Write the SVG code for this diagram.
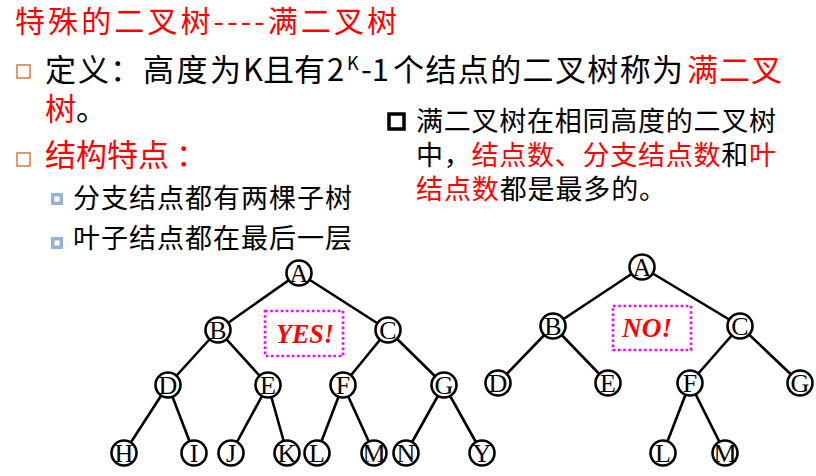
<svg xmlns="http://www.w3.org/2000/svg" width="816" height="476" viewBox="0 0 816 476">
<style>
.cjk{font-family:"Noto Sans CJK SC","Noto Sans",sans-serif;}
.red{fill:#FF0000;}
.blk{fill:#000000;}
.b1{fill:none;stroke:#D9824A;stroke-width:1.6;}
.b2{fill:#95B3D7;}
.b3{fill:#FFFFFF;stroke:#000;stroke-width:3.5;}
.edge{stroke:#000;stroke-width:2.6;}
.nc{fill:#FFFFFF;stroke:#000;stroke-width:2.6;}
.nt{font-family:"Liberation Serif","Times New Roman",serif;font-size:26px;text-anchor:middle;fill:#000;}
.tag{fill:none;stroke:#FF00FF;stroke-width:2.6;stroke-dasharray:2.6 2.6;}
.tagt{font-family:"Liberation Serif","Times New Roman",serif;font-size:27px;font-weight:bold;font-style:italic;fill:#FF0000;text-anchor:middle;}
</style>
<rect width="816" height="476" fill="#FFFFFF"/>

<g id="title">
<text class="cjk red" x="15" y="32" font-size="30" textLength="382" lengthAdjust="spacing">特殊的二叉树----满二叉树</text>
</g>

<g id="definition">
<rect class="b1" x="17" y="65" width="13" height="13"/>
<text class="cjk" font-size="31" y="81">
<tspan class="blk" x="45" textLength="64" lengthAdjust="spacing">定义</tspan><tspan class="blk" x="110">：</tspan><tspan class="blk" x="143" textLength="98" lengthAdjust="spacing">高度为</tspan><tspan class="blk" x="243">K</tspan><tspan class="blk" x="263" textLength="62" lengthAdjust="spacing">且有</tspan><tspan class="blk" x="327">2</tspan><tspan class="blk" x="347" y="70" font-size="18">K</tspan><tspan class="blk" x="361" y="81">-1</tspan><tspan class="blk" x="393" textLength="290" lengthAdjust="spacing">个结点的二叉树称为</tspan><tspan class="red" x="687" textLength="95" lengthAdjust="spacing">满二叉</tspan>
</text>
<text class="cjk" font-size="31" x="45" y="120"><tspan class="red">树</tspan><tspan class="blk">。</tspan></text>
</g>

<g id="structure">
<rect class="b1" x="17" y="153" width="13" height="13"/>
<text class="cjk red" font-size="31" y="166"><tspan x="45">结构特点</tspan><tspan x="176">：</tspan></text>
<rect class="b2" x="51" y="193" width="12" height="12"/>
<rect fill="#FFFFFF" x="54.5" y="196.5" width="5" height="5"/>
<text class="cjk blk" font-size="27" x="73" y="208" textLength="279" lengthAdjust="spacing">分支结点都有两棵子树</text>
<rect class="b2" x="51" y="237" width="12" height="12"/>
<rect fill="#FFFFFF" x="54.5" y="240.5" width="5" height="5"/>
<text class="cjk blk" font-size="27" x="73" y="248" textLength="279" lengthAdjust="spacing">叶子结点都在最后一层</text>
</g>

<g id="note">
<rect class="b3" x="389" y="114" width="15" height="15"/>
<text class="cjk blk" font-size="27" x="416" y="131" textLength="360" lengthAdjust="spacing">满二叉树在相同高度的二叉树</text>
<text class="cjk" font-size="27" x="416" y="165" textLength="360" lengthAdjust="spacing"><tspan class="blk">中，</tspan><tspan class="red">结点数、分支结点数</tspan><tspan class="blk">和</tspan><tspan class="red">叶</tspan></text>
<text class="cjk" font-size="27" x="416" y="199" textLength="250" lengthAdjust="spacing"><tspan class="red">结点数</tspan><tspan class="blk">都是最多的。</tspan></text>
</g>

<g id="connectors">
<line class="edge" x1="299" y1="273" x2="218" y2="330"/>
<line class="edge" x1="299" y1="273" x2="388" y2="330"/>
<line class="edge" x1="218" y1="330" x2="168" y2="385"/>
<line class="edge" x1="218" y1="330" x2="268" y2="385"/>
<line class="edge" x1="388" y1="330" x2="343" y2="385"/>
<line class="edge" x1="388" y1="330" x2="444" y2="385"/>
<line class="edge" x1="168" y1="385" x2="124" y2="453"/>
<line class="edge" x1="168" y1="385" x2="194" y2="453"/>
<line class="edge" x1="268" y1="385" x2="231" y2="453"/>
<line class="edge" x1="268" y1="385" x2="287" y2="453"/>
<line class="edge" x1="343" y1="385" x2="317" y2="453"/>
<line class="edge" x1="343" y1="385" x2="374" y2="453"/>
<line class="edge" x1="444" y1="385" x2="406" y2="453"/>
<line class="edge" x1="444" y1="385" x2="482" y2="453"/>
<line class="edge" x1="642" y1="267" x2="553" y2="326"/>
<line class="edge" x1="642" y1="267" x2="740" y2="326"/>
<line class="edge" x1="553" y1="326" x2="498" y2="383"/>
<line class="edge" x1="553" y1="326" x2="608" y2="383"/>
<line class="edge" x1="740" y1="326" x2="690" y2="383"/>
<line class="edge" x1="740" y1="326" x2="800" y2="383"/>
<line class="edge" x1="690" y1="383" x2="663" y2="453"/>
<line class="edge" x1="690" y1="383" x2="725" y2="453"/>
</g>

<g id="t1-A"><circle class="nc" cx="299" cy="273" r="12.5"/><text class="nt" x="299" y="282">A</text></g>
<g id="t1-B"><circle class="nc" cx="218" cy="330" r="12.5"/><text class="nt" x="218" y="339">B</text></g>
<g id="t1-C"><circle class="nc" cx="388" cy="330" r="12.5"/><text class="nt" x="388" y="339">C</text></g>
<g id="t1-D"><circle class="nc" cx="168" cy="385" r="12.5"/><text class="nt" x="168" y="394">D</text></g>
<g id="t1-E"><circle class="nc" cx="268" cy="385" r="12.5"/><text class="nt" x="268" y="394">E</text></g>
<g id="t1-F"><circle class="nc" cx="343" cy="385" r="12.5"/><text class="nt" x="343" y="394">F</text></g>
<g id="t1-G"><circle class="nc" cx="444" cy="385" r="12.5"/><text class="nt" x="444" y="394">G</text></g>
<g id="t1-H"><circle class="nc" cx="124" cy="453" r="12.5"/><text class="nt" x="124" y="462">H</text></g>
<g id="t1-I"><circle class="nc" cx="194" cy="453" r="12.5"/><text class="nt" x="194" y="462">I</text></g>
<g id="t1-J"><circle class="nc" cx="231" cy="453" r="12.5"/><text class="nt" x="231" y="462">J</text></g>
<g id="t1-K"><circle class="nc" cx="287" cy="453" r="12.5"/><text class="nt" x="287" y="462">K</text></g>
<g id="t1-L"><circle class="nc" cx="317" cy="453" r="12.5"/><text class="nt" x="317" y="462">L</text></g>
<g id="t1-M"><circle class="nc" cx="374" cy="453" r="12.5"/><text class="nt" x="374" y="462">M</text></g>
<g id="t1-N"><circle class="nc" cx="406" cy="453" r="12.5"/><text class="nt" x="406" y="462">N</text></g>
<g id="t1-Y"><circle class="nc" cx="482" cy="453" r="12.5"/><text class="nt" x="482" y="462">Y</text></g>
<g id="t1-yes"><rect class="tag" x="265" y="311" width="78" height="45"/><text class="tagt" x="305" y="343" textLength="58" lengthAdjust="spacingAndGlyphs">YES!</text></g>

<g id="t2-A"><circle class="nc" cx="642" cy="267" r="12.5"/><text class="nt" x="642" y="276">A</text></g>
<g id="t2-B"><circle class="nc" cx="553" cy="326" r="12.5"/><text class="nt" x="553" y="335">B</text></g>
<g id="t2-C"><circle class="nc" cx="740" cy="326" r="12.5"/><text class="nt" x="740" y="335">C</text></g>
<g id="t2-D"><circle class="nc" cx="498" cy="383" r="12.5"/><text class="nt" x="498" y="392">D</text></g>
<g id="t2-E"><circle class="nc" cx="608" cy="383" r="12.5"/><text class="nt" x="608" y="392">E</text></g>
<g id="t2-F"><circle class="nc" cx="690" cy="383" r="12.5"/><text class="nt" x="690" y="392">F</text></g>
<g id="t2-G"><circle class="nc" cx="800" cy="383" r="12.5"/><text class="nt" x="800" y="392">G</text></g>
<g id="t2-L"><circle class="nc" cx="663" cy="453" r="12.5"/><text class="nt" x="663" y="462">L</text></g>
<g id="t2-M"><circle class="nc" cx="725" cy="453" r="12.5"/><text class="nt" x="725" y="462">M</text></g>
<g id="t2-no"><rect class="tag" x="613" y="306" width="78" height="44"/><text class="tagt" x="647" y="337" textLength="50" lengthAdjust="spacingAndGlyphs">NO!</text></g>
</svg>
